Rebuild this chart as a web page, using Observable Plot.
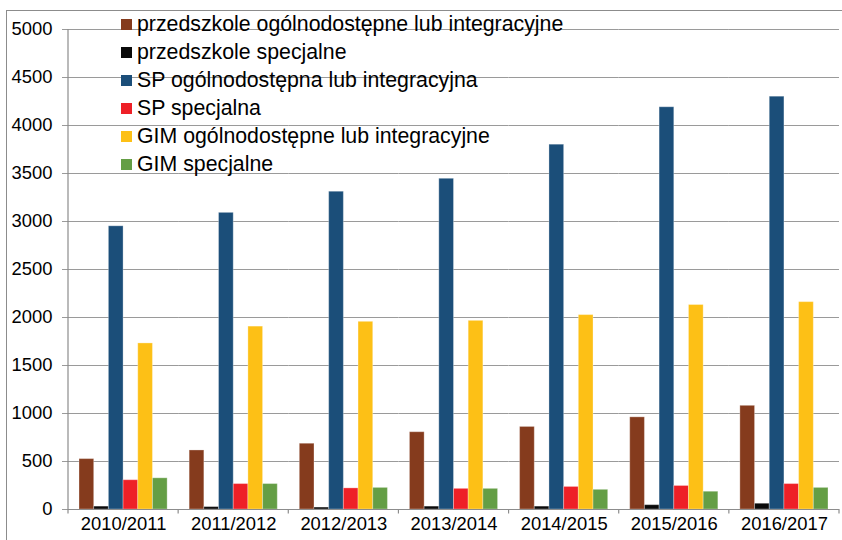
<!DOCTYPE html>
<html>
<head>
<meta charset="utf-8">
<script src="https://cdn.jsdelivr.net/npm/d3@7"></script>
<script src="https://cdn.jsdelivr.net/npm/@observablehq/plot@0.6"></script>
<style>
  html, body { margin: 0; padding: 0; background: #fff; }
  #wrap { position: relative; width: 842px; height: 540px; overflow: hidden; font-family: "Liberation Sans", Arial, sans-serif; }
  #frame { position: absolute; left: 6px; top: 10px; width: 900px; height: 600px; border-top: 1px solid #8c8c8c; border-left: 1px solid #8c8c8c; pointer-events: none; }
  #legend { position: absolute; left: 121px; top: 10.8px; font-size: 21.3px; color: #000; }
  #legend .row { height: 27.86px; display: flex; align-items: center; white-space: nowrap; }
  #legend .sw { width: 11px; height: 11px; margin-right: 5px; flex: none; }
</style>
</head>
<body>
<div id="wrap"><div id="frame"></div><div id="legend"></div></div>
<script>
const years = ["2010/2011", "2011/2012", "2012/2013", "2013/2014", "2014/2015", "2015/2016", "2016/2017"];
const series = [
  "przedszkole ogólnodostępne lub integracyjne",
  "przedszkole specjalne",
  "SP ogólnodostępna lub integracyjna",
  "SP specjalna",
  "GIM ogólnodostępne lub integracyjne",
  "GIM specjalne"
];
const colors = ["#853B1D", "#0A0A0A", "#1B4E79", "#EE2027", "#FDC016", "#649E45"];
const przedszkoleOgolne = [525, 615, 685, 805, 860, 960, 1080];
const przedszkoleSpecjalne = [30, 25, 20, 30, 30, 45, 60];
const spOgolna = [2950, 3090, 3310, 3445, 3800, 4190, 4300];
const spSpecjalna = [305, 265, 220, 215, 235, 245, 265];
const gimOgolne = [1730, 1905, 1955, 1965, 2025, 2130, 2160];
const gimSpecjalne = [325, 265, 225, 215, 205, 185, 225];
const yTicks = [0, 500, 1000, 1500, 2000, 2500, 3000, 3500, 4000, 4500, 5000];

const seriesValues = [przedszkoleOgolne, przedszkoleSpecjalne, spOgolna, spSpecjalna, gimOgolne, gimSpecjalne];
const table = [];
years.forEach((year, i) => {
  series.forEach((s, j) => table.push({year, series: s, value: seriesValues[j][i]}));
});

const plot = Plot.plot({
  width: 842,
  height: 540,
  marginLeft: 68,
  marginRight: 3,
  marginTop: 29,
  marginBottom: 31,
  style: {fontFamily: "'Liberation Sans', Arial, sans-serif", fontSize: "18.4px", color: "#000", background: "transparent", overflow: "visible"},
  fx: {domain: years, padding: 0, round: false, axis: null, label: null},
  x: {domain: series, paddingInner: 0, paddingOuter: 0.75, round: false, axis: null},
  y: {domain: [0, 5000], axis: null, label: null},
  color: {domain: series, range: colors},
  marks: [
    Plot.gridY(yTicks, {stroke: "#9a9a9a", strokeOpacity: 1, strokeWidth: 1}),
    Plot.axisY(yTicks, {tickSize: 6, tickPadding: 10, stroke: "#9a9a9a", fill: "#000", label: null, fontSize: 18.4, tickFormat: d => String(d)}),
    Plot.barY(table, {fx: "year", x: "series", y: "value", fill: "series", stroke: "#ffffff", strokeOpacity: 0.3, strokeWidth: 1}),
    Plot.ruleY([0], {stroke: "#8c8c8c", strokeWidth: 1.2}),
    Plot.axisFx({anchor: "bottom", tickSize: 0, tickPadding: 7, label: null, fontSize: 18.4, fill: "#000"})
  ]
});

const wrap = document.getElementById("wrap");
plot.style.position = "absolute";
plot.style.left = "0";
plot.style.top = "0";
wrap.insertBefore(plot, wrap.firstChild);

// axis lines and category boundary ticks from the library's scales
const fx = plot.scale("fx");
const ys = plot.scale("y");
const y0 = ys.apply(0), yTop = ys.apply(5000);
const svg = d3.select(plot);
const g = svg.append("g").attr("stroke", "#8c8c8c").attr("stroke-width", 1.2);
const x0 = fx.apply(years[0]);
g.append("line").attr("x1", x0).attr("x2", x0).attr("y1", yTop).attr("y2", y0);
const bounds = years.map(y => fx.apply(y)).concat([fx.apply(years[years.length - 1]) + fx.bandwidth]);
bounds.forEach(b => {
  g.append("line").attr("x1", b).attr("x2", b).attr("y1", y0).attr("y2", y0 + 4.5);
});

// legend
const legend = d3.select("#legend");
series.forEach((s, i) => {
  const row = legend.append("div").attr("class", "row");
  row.append("div").attr("class", "sw").style("background", colors[i]);
  row.append("span").text(s);
});
</script>
</body>
</html>
